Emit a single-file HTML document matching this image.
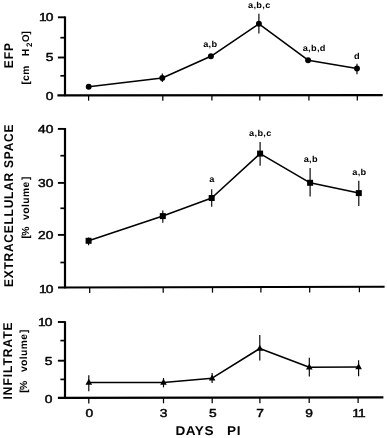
<!DOCTYPE html>
<html lang="en">
<head>
<meta charset="utf-8">
<title>EFP, extracellular space and infiltrate vs days PI</title>
<style>
html,body{margin:0;padding:0;background:#fff;}
svg{display:block;}
text{font-family:"Liberation Sans",sans-serif;fill:#000;white-space:pre;text-rendering:geometricPrecision;}
</style>
</head>
<body>
<svg width="387" height="438" viewBox="0 0 387 438" role="img" aria-label="EFP, extracellular space and infiltrate versus days PI">
<rect x="0" y="0" width="387" height="438" fill="#fff"/>
<g style="filter:blur(0.45px)">
<line x1="65.0" y1="16.4" x2="65.0" y2="96.2" stroke="#000" stroke-width="2.2"/>
<line x1="57.4" y1="95.3" x2="382.7" y2="95.1" stroke="#000" stroke-width="2.3"/>
<line x1="57.9" y1="17.3" x2="64.8" y2="17.3" stroke="#000" stroke-width="1.9"/>
<line x1="57.9" y1="57.5" x2="64.8" y2="57.5" stroke="#000" stroke-width="1.9"/>
<line x1="60.4" y1="37.7" x2="64.8" y2="37.7" stroke="#000" stroke-width="1.7"/>
<line x1="60.4" y1="75.8" x2="64.8" y2="75.8" stroke="#000" stroke-width="1.7"/>
<line x1="88.6" y1="95.28" x2="88.6" y2="100.68" stroke="#000" stroke-width="1.25"/>
<line x1="162.8" y1="95.24" x2="162.8" y2="100.64" stroke="#000" stroke-width="1.25"/>
<line x1="211.9" y1="95.21" x2="211.9" y2="100.61" stroke="#000" stroke-width="1.25"/>
<line x1="259.8" y1="95.18" x2="259.8" y2="100.58" stroke="#000" stroke-width="1.25"/>
<line x1="308.9" y1="95.15" x2="308.9" y2="100.55" stroke="#000" stroke-width="1.25"/>
<line x1="357.3" y1="95.12" x2="357.3" y2="100.52" stroke="#000" stroke-width="1.25"/>
<polyline points="88.7,86.8 162.3,78 210.9,56.3 258.9,23.8 308.1,60.2 357,68.5" fill="none" stroke="#000" stroke-width="1.55" stroke-linejoin="round"/>
<circle cx="88.7" cy="86.8" r="2.95" fill="#000"/>
<line x1="162.3" y1="73.6" x2="162.3" y2="81.9" stroke="#000" stroke-width="1.15"/>
<circle cx="162.3" cy="78" r="2.95" fill="#000"/>
<circle cx="210.9" cy="56.3" r="2.95" fill="#000"/>
<line x1="258.9" y1="13.7" x2="258.9" y2="33.6" stroke="#000" stroke-width="1.15"/>
<circle cx="258.9" cy="23.8" r="2.95" fill="#000"/>
<circle cx="308.1" cy="60.2" r="2.95" fill="#000"/>
<line x1="357" y1="63.8" x2="357" y2="74.2" stroke="#000" stroke-width="1.15"/>
<circle cx="357" cy="68.5" r="2.95" fill="#000"/>
<line x1="65.0" y1="128.0" x2="65.0" y2="288.4" stroke="#000" stroke-width="2.2"/>
<line x1="58.0" y1="287.5" x2="384.6" y2="286.7" stroke="#000" stroke-width="2.1"/>
<line x1="57.9" y1="128.9" x2="64.8" y2="128.9" stroke="#000" stroke-width="1.9"/>
<line x1="57.9" y1="182.9" x2="64.8" y2="182.9" stroke="#000" stroke-width="1.9"/>
<line x1="57.9" y1="234.9" x2="64.8" y2="234.9" stroke="#000" stroke-width="1.9"/>
<line x1="60.4" y1="155.7" x2="64.8" y2="155.7" stroke="#000" stroke-width="1.7"/>
<line x1="60.4" y1="208.3" x2="64.8" y2="208.3" stroke="#000" stroke-width="1.7"/>
<line x1="60.4" y1="262.5" x2="64.8" y2="262.5" stroke="#000" stroke-width="1.7"/>
<line x1="89.7" y1="287.42" x2="89.7" y2="292.92" stroke="#000" stroke-width="1.25"/>
<line x1="163.2" y1="287.24" x2="163.2" y2="292.74" stroke="#000" stroke-width="1.25"/>
<line x1="212.5" y1="287.12" x2="212.5" y2="292.62" stroke="#000" stroke-width="1.25"/>
<line x1="260.9" y1="287.0" x2="260.9" y2="292.5" stroke="#000" stroke-width="1.25"/>
<line x1="309.7" y1="286.88" x2="309.7" y2="292.38" stroke="#000" stroke-width="1.25"/>
<line x1="359.4" y1="286.76" x2="359.4" y2="292.26" stroke="#000" stroke-width="1.25"/>
<polyline points="88.6,240.8 162.8,216.1 211.7,198 260.1,153.6 310.1,182.8 358.8,193.1" fill="none" stroke="#000" stroke-width="1.55" stroke-linejoin="round"/>
<line x1="88.6" y1="237.5" x2="88.6" y2="245.2" stroke="#000" stroke-width="1.15"/>
<rect x="85.6" y="237.8" width="6" height="6" fill="#000"/>
<line x1="162.8" y1="210.4" x2="162.8" y2="222.8" stroke="#000" stroke-width="1.15"/>
<rect x="159.8" y="213.1" width="6" height="6" fill="#000"/>
<line x1="211.7" y1="189.2" x2="211.7" y2="206.8" stroke="#000" stroke-width="1.15"/>
<rect x="208.7" y="195.0" width="6" height="6" fill="#000"/>
<line x1="260.1" y1="142" x2="260.1" y2="165.7" stroke="#000" stroke-width="1.15"/>
<rect x="257.1" y="150.6" width="6" height="6" fill="#000"/>
<line x1="310.1" y1="168" x2="310.1" y2="196.5" stroke="#000" stroke-width="1.15"/>
<rect x="307.1" y="179.8" width="6" height="6" fill="#000"/>
<line x1="358.8" y1="180.7" x2="358.8" y2="206" stroke="#000" stroke-width="1.15"/>
<rect x="355.8" y="190.1" width="6" height="6" fill="#000"/>
<line x1="65.0" y1="321.2" x2="65.0" y2="398.8" stroke="#000" stroke-width="2.2"/>
<line x1="57.9" y1="397.9" x2="383.4" y2="397.3" stroke="#000" stroke-width="2.2"/>
<line x1="57.9" y1="322.0" x2="64.8" y2="322.0" stroke="#000" stroke-width="1.9"/>
<line x1="57.9" y1="360.7" x2="64.8" y2="360.7" stroke="#000" stroke-width="1.9"/>
<line x1="60.4" y1="340.6" x2="64.8" y2="340.6" stroke="#000" stroke-width="1.7"/>
<line x1="60.4" y1="379.4" x2="64.8" y2="379.4" stroke="#000" stroke-width="1.7"/>
<line x1="88.8" y1="397.84" x2="88.8" y2="403.44" stroke="#000" stroke-width="1.25"/>
<line x1="163.5" y1="397.7" x2="163.5" y2="403.3" stroke="#000" stroke-width="1.25"/>
<line x1="212.2" y1="397.62" x2="212.2" y2="403.22" stroke="#000" stroke-width="1.25"/>
<line x1="259.9" y1="397.53" x2="259.9" y2="403.13" stroke="#000" stroke-width="1.25"/>
<line x1="309.2" y1="397.44" x2="309.2" y2="403.04" stroke="#000" stroke-width="1.25"/>
<line x1="358.1" y1="397.35" x2="358.1" y2="402.95" stroke="#000" stroke-width="1.25"/>
<polyline points="88.8,382.5 163.5,382.5 212.1,378.2 259.8,348.5 309.3,367.2 358.6,367.0" fill="none" stroke="#000" stroke-width="1.55" stroke-linejoin="round"/>
<line x1="88.8" y1="375.3" x2="88.8" y2="391.3" stroke="#000" stroke-width="1.15"/>
<polygon points="88.8,378.8 92.1,384.7 85.5,384.7" fill="#000"/>
<line x1="163.5" y1="378" x2="163.5" y2="387.4" stroke="#000" stroke-width="1.15"/>
<polygon points="163.5,378.8 166.8,384.7 160.2,384.7" fill="#000"/>
<line x1="212.1" y1="373.0" x2="212.1" y2="383.0" stroke="#000" stroke-width="1.15"/>
<polygon points="212.1,374.5 215.4,380.4 208.79999999999998,380.4" fill="#000"/>
<line x1="259.8" y1="334.9" x2="259.8" y2="360.6" stroke="#000" stroke-width="1.15"/>
<polygon points="259.8,344.8 263.1,350.7 256.5,350.7" fill="#000"/>
<line x1="309.3" y1="357.7" x2="309.3" y2="376.4" stroke="#000" stroke-width="1.15"/>
<polygon points="309.3,363.5 312.6,369.4 306.0,369.4" fill="#000"/>
<line x1="358.6" y1="360.2" x2="358.6" y2="376.3" stroke="#000" stroke-width="1.15"/>
<polygon points="358.6,363.3 361.90000000000003,369.2 355.3,369.2" fill="#000"/>
<text transform="translate(52.32,21.3) scale(1.2,1)" font-size="11.5" font-weight="normal" text-anchor="end" letter-spacing="-0.9" stroke="#000" stroke-width="0.45" stroke-linejoin="round">10</text>
<text transform="translate(53.4,61.3) scale(1.2,1)" font-size="11.5" font-weight="normal" text-anchor="end" letter-spacing="0" stroke="#000" stroke-width="0.45" stroke-linejoin="round">5</text>
<text transform="translate(53.4,100.3) scale(1.2,1)" font-size="11.5" font-weight="normal" text-anchor="end" letter-spacing="0" stroke="#000" stroke-width="0.45" stroke-linejoin="round">0</text>
<text transform="translate(53.4,133.4) scale(1.2,1)" font-size="11.5" font-weight="normal" text-anchor="end" letter-spacing="0" stroke="#000" stroke-width="0.45" stroke-linejoin="round">40</text>
<text transform="translate(53.4,187.2) scale(1.2,1)" font-size="11.5" font-weight="normal" text-anchor="end" letter-spacing="0" stroke="#000" stroke-width="0.45" stroke-linejoin="round">30</text>
<text transform="translate(53.4,239.2) scale(1.2,1)" font-size="11.5" font-weight="normal" text-anchor="end" letter-spacing="0" stroke="#000" stroke-width="0.45" stroke-linejoin="round">20</text>
<text transform="translate(52.32,292.8) scale(1.2,1)" font-size="11.5" font-weight="normal" text-anchor="end" letter-spacing="-0.9" stroke="#000" stroke-width="0.45" stroke-linejoin="round">10</text>
<text transform="translate(51.32,326.2) scale(1.2,1)" font-size="11.5" font-weight="normal" text-anchor="end" letter-spacing="-0.9" stroke="#000" stroke-width="0.45" stroke-linejoin="round">10</text>
<text transform="translate(52.4,365.3) scale(1.2,1)" font-size="11.5" font-weight="normal" text-anchor="end" letter-spacing="0" stroke="#000" stroke-width="0.45" stroke-linejoin="round">5</text>
<text transform="translate(52.4,402.6) scale(1.2,1)" font-size="11.5" font-weight="normal" text-anchor="end" letter-spacing="0" stroke="#000" stroke-width="0.45" stroke-linejoin="round">0</text>
<text transform="translate(89.3,416.8) scale(1.2,1)" font-size="11.5" font-weight="normal" text-anchor="middle" letter-spacing="0" stroke="#000" stroke-width="0.45" stroke-linejoin="round">0</text>
<text transform="translate(163.6,416.8) scale(1.2,1)" font-size="11.5" font-weight="normal" text-anchor="middle" letter-spacing="0" stroke="#000" stroke-width="0.45" stroke-linejoin="round">3</text>
<text transform="translate(212.8,416.8) scale(1.2,1)" font-size="11.5" font-weight="normal" text-anchor="middle" letter-spacing="0" stroke="#000" stroke-width="0.45" stroke-linejoin="round">5</text>
<text transform="translate(260.1,416.8) scale(1.2,1)" font-size="11.5" font-weight="normal" text-anchor="middle" letter-spacing="0" stroke="#000" stroke-width="0.45" stroke-linejoin="round">7</text>
<text transform="translate(309.1,416.8) scale(1.2,1)" font-size="11.5" font-weight="normal" text-anchor="middle" letter-spacing="0" stroke="#000" stroke-width="0.45" stroke-linejoin="round">9</text>
<text transform="translate(358.6,416.8) scale(1.2,1)" font-size="11.5" font-weight="normal" text-anchor="middle" letter-spacing="-0.7" stroke="#000" stroke-width="0.45" stroke-linejoin="round">11</text>
<text transform="translate(175.4,434.9) scale(1.06,1)" font-size="12.8" font-weight="bold" text-anchor="start" letter-spacing="0.5" >DAYS</text>
<text transform="translate(227.0,434.9) scale(1.06,1)" font-size="12.8" font-weight="bold" text-anchor="start" letter-spacing="0.6" >PI</text>
<text transform="translate(210.3,46.8) scale(1.06,1)" font-size="8.7" font-weight="bold" text-anchor="middle" letter-spacing="0.3" >a,b</text>
<text transform="translate(259.3,8.0) scale(1.06,1)" font-size="8.7" font-weight="bold" text-anchor="middle" letter-spacing="0.3" >a,b,c</text>
<text transform="translate(314.2,50.6) scale(1.06,1)" font-size="8.7" font-weight="bold" text-anchor="middle" letter-spacing="0.3" >a,b,d</text>
<text transform="translate(356.9,58.6) scale(1.06,1)" font-size="8.7" font-weight="bold" text-anchor="middle" letter-spacing="0.3" >d</text>
<text transform="translate(211.9,182.1) scale(1.06,1)" font-size="8.7" font-weight="bold" text-anchor="middle" letter-spacing="0.3" >a</text>
<text transform="translate(260.4,135.5) scale(1.06,1)" font-size="8.7" font-weight="bold" text-anchor="middle" letter-spacing="0.3" >a,b,c</text>
<text transform="translate(310.8,161.8) scale(1.06,1)" font-size="8.7" font-weight="bold" text-anchor="middle" letter-spacing="0.3" >a,b</text>
<text transform="translate(359.4,175.0) scale(1.06,1)" font-size="8.7" font-weight="bold" text-anchor="middle" letter-spacing="0.3" >a,b</text>
<text transform="translate(13.0,68.2) rotate(-90) scale(1,1.06)" font-size="12" font-weight="bold" text-anchor="start" letter-spacing="0.9" >EFP</text>
<text transform="translate(29.1,84.6) rotate(-90) scale(1,1.0)" font-size="10.3" font-weight="bold" text-anchor="start" letter-spacing="0.2" >[<tspan x='3.5' letter-spacing='0.7'>cm </tspan><tspan x='28.4'>H</tspan><tspan font-size='8' dy='3.0' x='37.6'>2</tspan><tspan dy='-3.0' x='42.5' font-size='9.8'>O</tspan><tspan x='50.0'>]</tspan></text>
<text transform="translate(13.3,287.1) rotate(-90) scale(1,1.06)" font-size="12" font-weight="bold" text-anchor="start" letter-spacing="0.75" >EXTRACELLULAR SPACE</text>
<text transform="translate(28.9,238.4) rotate(-90) scale(1,1.0)" font-size="10.3" font-weight="bold" text-anchor="start" letter-spacing="0" >[<tspan x='2.6'>% </tspan><tspan x='18.4' letter-spacing='0.45'>volume</tspan><tspan x='58.4'>]</tspan></text>
<text transform="translate(12.4,399.6) rotate(-90) scale(1,1.06)" font-size="12" font-weight="bold" text-anchor="start" letter-spacing="1.0" >INFILTRATE</text>
<text transform="translate(26.7,392.7) rotate(-90) scale(1,1.0)" font-size="10.3" font-weight="bold" text-anchor="start" letter-spacing="0" >[<tspan x='2.6'>% </tspan><tspan x='20.6' letter-spacing='0.4'>volume</tspan><tspan x='59.8'>]</tspan></text>
</g>
</svg>
</body>
</html>
